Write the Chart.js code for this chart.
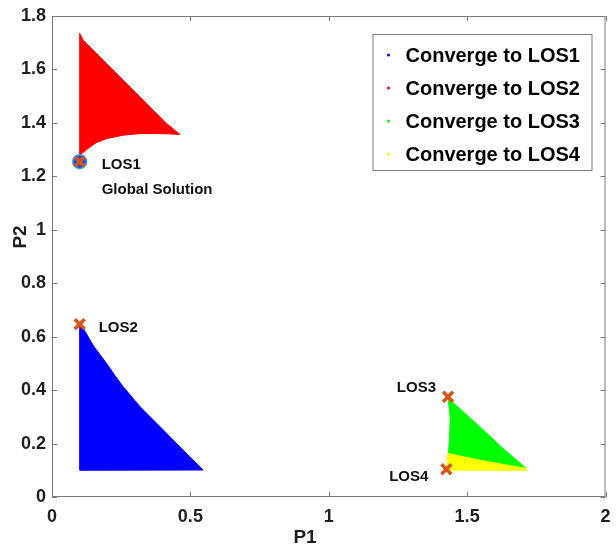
<!DOCTYPE html>
<html><head><meta charset="utf-8">
<script src="https://cdn.jsdelivr.net/npm/chart.js@4/dist/chart.umd.min.js"></script>
<style>html,body{margin:0;padding:0;background:#fff;}canvas{display:block;}</style>
</head><body>
<canvas id="c" width="616" height="544"></canvas>
<script>
// ---- data ----
const xTickLabels = ['0','0.5','1','1.5','2'];
const yTickLabels = ['0','0.2','0.4','0.6','0.8','1','1.2','1.4','1.6','1.8'];
const legendLabels = ['Converge to LOS1','Converge to LOS2','Converge to LOS3','Converge to LOS4'];
const regionColors = ['#0000ff','#ff0000','#00ff00','#ffff00'];

// basin converging to LOS1 (red region, top-left)
const los1BasinP1 = [0.100, 0.100, 0.113, 0.197, 0.318, 0.414, 0.462, 0.420, 0.378, 0.318, 0.257, 0.197, 0.160, 0.137, 0.107, 0.100];
const los1BasinP2 = [1.265, 1.735, 1.709, 1.622, 1.497, 1.398, 1.357, 1.359, 1.360, 1.360, 1.354, 1.341, 1.326, 1.310, 1.285, 1.265];
// basin converging to LOS2 (blue region, bottom-left)
const los2BasinP1 = [0.100, 0.100, 0.113, 0.150, 0.197, 0.227, 0.257, 0.318, 0.378, 0.438, 0.498, 0.546, 0.100];
const los2BasinP2 = [0.100, 0.645, 0.631, 0.565, 0.500, 0.455, 0.413, 0.338, 0.276, 0.213, 0.151, 0.101, 0.100];
// basin converging to LOS3 (green region)
const los3BasinP1 = [1.431, 1.545, 1.629, 1.714, 1.630, 1.545, 1.433, 1.437, 1.439, 1.431];
const los3BasinP2 = [0.370, 0.264, 0.182, 0.107, 0.122, 0.138, 0.163, 0.238, 0.300, 0.370];
// basin converging to LOS4 (yellow region)
const los4BasinP1 = [1.426, 1.430, 1.545, 1.630, 1.714, 1.714, 1.426];
const los4BasinP2 = [0.100, 0.163, 0.138, 0.122, 0.107, 0.100, 0.100];

// local optimal solutions
const losNames = ['LOS1','LOS2','LOS3','LOS4'];
const losP1 = [0.100, 0.100, 1.431, 1.425];
const losP2 = [1.255, 0.647, 0.375, 0.104];
const globalNote = 'Global Solution';

const toPts = (xs, ys) => xs.map((x, i) => ({x, y: ys[i]}));

const FONT = "'Liberation Sans', Arial, sans-serif";
const TXT = '#1f1f1f';
const AXC = '#7a7a7a';

const regionDs = (label, xs, ys, color, ord) => ({
  label, data: toPts(xs, ys), showLine: true, fill: 'shape',
  backgroundColor: color, borderColor: color, borderWidth: 1,
  pointRadius: 0, tension: 0, order: ord
});

const framePlugin = {
  id: 'frame',
  afterDraw(chart) {
    const ctx = chart.ctx, a = chart.chartArea;
    const xs = chart.scales.x, ys = chart.scales.y;
    ctx.save();
    // box
    ctx.strokeStyle = AXC; ctx.lineWidth = 1;
    ctx.strokeRect(a.left + 0.5, a.top + 0.5, a.right - a.left - 1, a.bottom - a.top - 1);
    // inward ticks
    const tl = 5;
    ctx.beginPath();
    xs.ticks.forEach(t => {
      const px = Math.round(xs.getPixelForValue(t.value)) + 0.5;
      ctx.moveTo(px, a.bottom); ctx.lineTo(px, a.bottom - tl);
      ctx.moveTo(px, a.top); ctx.lineTo(px, a.top + tl);
    });
    ys.ticks.forEach(t => {
      const py = Math.round(ys.getPixelForValue(t.value)) + 0.5;
      ctx.moveTo(a.left, py); ctx.lineTo(a.left + tl, py);
      ctx.moveTo(a.right, py); ctx.lineTo(a.right - tl, py);
    });
    ctx.stroke();

    // axis titles
    ctx.fillStyle = TXT;
    ctx.font = 'bold 19px ' + FONT;
    ctx.textAlign = 'center'; ctx.textBaseline = 'alphabetic';
    ctx.fillText('P1', a.left + 253, chart.height - 1);
    ctx.save();
    ctx.translate(26, a.top + 221);
    ctx.rotate(-Math.PI / 2);
    ctx.fillText('P2', 0, 0);
    ctx.restore();

    // LOS annotations
    ctx.font = 'bold 15px ' + FONT;
    ctx.fillStyle = '#111';
    const offs = [[22, 7.5, 'left'], [19, 8, 'left'], [-12, -5, 'right'], [-18, 11.5, 'right']];
    losNames.forEach((n, i) => {
      const px = xs.getPixelForValue(losP1[i]), py = ys.getPixelForValue(losP2[i]);
      ctx.textAlign = offs[i][2];
      ctx.fillText(n, px + offs[i][0], py + offs[i][1]);
      if (i === 0) ctx.fillText(globalNote, px + offs[i][0], py + offs[i][1] + 25);
    });

    // legend
    const bx = a.right - 233, by = a.top + 18, bw = 219, bh = 136;
    ctx.fillStyle = '#fff';
    ctx.fillRect(bx, by, bw, bh);
    ctx.strokeStyle = AXC;
    ctx.strokeRect(bx + 0.5, by + 0.5, bw, bh);
    ctx.font = 'bold 20px ' + FONT;
    ctx.textAlign = 'left'; ctx.textBaseline = 'middle';
    legendLabels.forEach((l, i) => {
      const cy = by + 21 + i * 33;
      ctx.fillStyle = regionColors[i];
      ctx.beginPath(); ctx.arc(bx + 16, cy, 1.5, 0, Math.PI * 2); ctx.fill();
      ctx.fillStyle = '#000';
      ctx.fillText(l, bx + 33, cy + 1);
    });
    ctx.restore();
  }
};

new Chart(document.getElementById('c'), {
  type: 'scatter',
  data: {
    datasets: [
      { label: 'LOS marks', data: toPts(losP1, losP2), pointStyle: 'crossRot',
        pointRadius: 7, pointBorderWidth: 3.5, borderColor: '#D95319', backgroundColor: '#D95319', order: 0 },
      { label: 'LOS1 circle', data: toPts(losP1.slice(0, 1), losP2.slice(0, 1)), pointStyle: 'circle',
        pointRadius: 7, pointBorderWidth: 1.5, borderColor: '#3aa6e6', backgroundColor: '#1f50dc', order: 1 },
      regionDs(legendLabels[0], los1BasinP1, los1BasinP2, regionColors[1], 5),
      regionDs(legendLabels[1], los2BasinP1, los2BasinP2, regionColors[0], 5),
      regionDs(legendLabels[2], los3BasinP1, los3BasinP2, regionColors[2], 6),
      regionDs(legendLabels[3], los4BasinP1, los4BasinP2, regionColors[3], 5)
    ]
  },
  options: {
    responsive: false, animation: false, devicePixelRatio: 1,
    layout: { padding: { top: 16, right: 10, left: 0, bottom: 0 } },
    plugins: { legend: { display: false }, tooltip: { enabled: false } },
    scales: {
      x: {
        type: 'linear', min: 0, max: 2,
        afterFit: s => { s.height = 47; s.paddingRight = 0; s.paddingLeft = 0; },
        grid: { display: false, drawTicks: false },
        border: { display: false },
        ticks: { stepSize: 0.5, padding: 9, color: TXT, font: { family: FONT, size: 18, weight: 'bold' },
          callback: (v, i) => xTickLabels[i] ?? String(v) }
      },
      y: {
        type: 'linear', min: 0, max: 1.8,
        afterFit: s => { s.width = 52; s.paddingTop = 0; s.paddingBottom = 0; },
        grid: { display: false, drawTicks: false },
        border: { display: false },
        ticks: { stepSize: 0.2, padding: 6, color: TXT, font: { family: FONT, size: 18, weight: 'bold' },
          callback: (v, i) => yTickLabels[i] ?? String(v) }
      }
    }
  },
  plugins: [framePlugin]
});
</script>
</body></html>
